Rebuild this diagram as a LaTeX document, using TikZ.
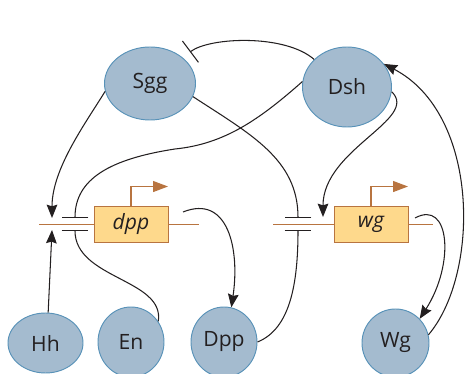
\documentclass[tikz,border=0pt]{standalone}
\usepackage{fontspec}
\setsansfont{Open Sans}
\usepackage{tikz}
\usetikzlibrary{arrows.meta, shapes.geometric}
\definecolor{protfill}{RGB}{164, 187, 207}
\definecolor{protedge}{RGB}{88, 146, 184}
\definecolor{genefill}{RGB}{254, 217, 140}
\definecolor{geneedge}{RGB}{184, 116, 64}
\definecolor{ink}{RGB}{35, 31, 32}

\begin{document}
\begin{tikzpicture}[x=0.03cm, y=0.03cm,
		protein/.style={ellipse, draw=protedge, fill=protfill, line width=0.8pt, inner sep=0pt,
			text=ink, font=\sffamily\fontsize{18}{20}\selectfont},
		gene/.style={rectangle, draw=geneedge, fill=genefill, line width=0.8pt, inner sep=0pt,
			minimum width=2.22cm, minimum height=1.08cm, text=ink,
			font=\sffamily\itshape\fontsize{18}{20}\selectfont},
		dna/.style={geneedge, line width=0.8pt},
		promoter/.style={geneedge, line width=1pt, -{Triangle[length=0.45cm, width=0.33cm]}},
		act/.style={ink, line width=0.9pt, -{Stealth[length=0.4cm, width=0.32cm, inset=0.05cm]}},
		inh/.style={ink, line width=0.9pt, -{Bar[width=0.8cm]}}]
		\useasboundingbox (0,0) rectangle (466,374);
		
		% --- DNA lines ---
		\coordinate (dppL) at (39,150);
		\coordinate (dppR) at (199,150);
		\coordinate (wgL)  at (273,150);
		\coordinate (wgR)  at (433,150);
		\draw[dna] (dppL) -- (dppR);
		\draw[dna] (wgL) -- (wgR);
		
		% --- genes ---
		\node[gene] (dppbox) at (131,150) {dpp};
		\node[gene] (wgbox)  at (371,150) {wg};
		\draw[promoter] (dppbox.north) |- ++(37,19);
		\draw[promoter] (wgbox.north)  |- ++(37,19);
		
		% --- proteins ---
		\node[protein, minimum width=2.73cm, minimum height=2.19cm] (Sgg) at (150,290.5) {Sgg};
		\node[protein, minimum width=2.67cm, minimum height=2.40cm] (Dsh) at (347,287) {Dsh};
		\node[protein, minimum width=2.25cm, minimum height=1.80cm] (Hh)  at (45.5,31) {Hh};
		\node[protein, minimum width=1.98cm, minimum height=2.10cm] (En)  at (131,32) {En};
		\node[protein, minimum width=1.98cm, minimum height=2.10cm] (Dpp) at (224,32) {Dpp};
		\node[protein, minimum width=2.01cm, minimum height=2.04cm] (Wg)  at (395.5,31) {Wg};
		
		% --- regulation points ---
		\coordinate (dppIn)  at (52,156);
		\coordinate (dppInH) at (52,144);
		\coordinate (dppTop) at (75,156);
		\coordinate (dppBot) at (75,144);
		\coordinate (wgTop)  at (298,156);
		\coordinate (wgBot)  at (298,144);
		\coordinate (wgIn)   at (323,157);
		\coordinate (sggBar) at (190,322);
		\coordinate (dppOut) at (183,162);
		\coordinate (wgOut)  at (415,156);
		
		% --- connectors ---
		\draw[act] (Sgg.190) .. controls (85,250) and (52,205) .. (dppIn);
		\draw[act] (Hh.85) -- (dppInH);
		\draw[inh] (Dsh.173) .. controls (260,255) and (225,230) .. (175,225)
			.. controls (110,215) and (75,195) .. (dppTop);
		\draw[inh] (En.37) .. controls (165,95) and (75,95) .. (dppBot);
		\draw[inh] (Sgg.-17) .. controls (250,240) and (298,215) .. (wgTop);
		\draw[inh] (Dpp.east) .. controls (290,45) and (298,90) .. (wgBot);
		\draw[inh] (Dsh.140) .. controls (285,340) and (210,337) .. (sggBar);
		\draw[act] (Dsh.-6) .. controls (420,255) and (323,225) .. (wgIn);
		\draw[act] (dppOut) .. controls (228,180) and (240,125) .. (Dpp.78);
		\draw[act] (wgOut) .. controls (450,175) and (455,110) .. (Wg.45);
		\draw[act] (Wg.14) .. controls (480,100) and (480,260) .. (Dsh.32);
		
	\end{tikzpicture}
\end{document}
